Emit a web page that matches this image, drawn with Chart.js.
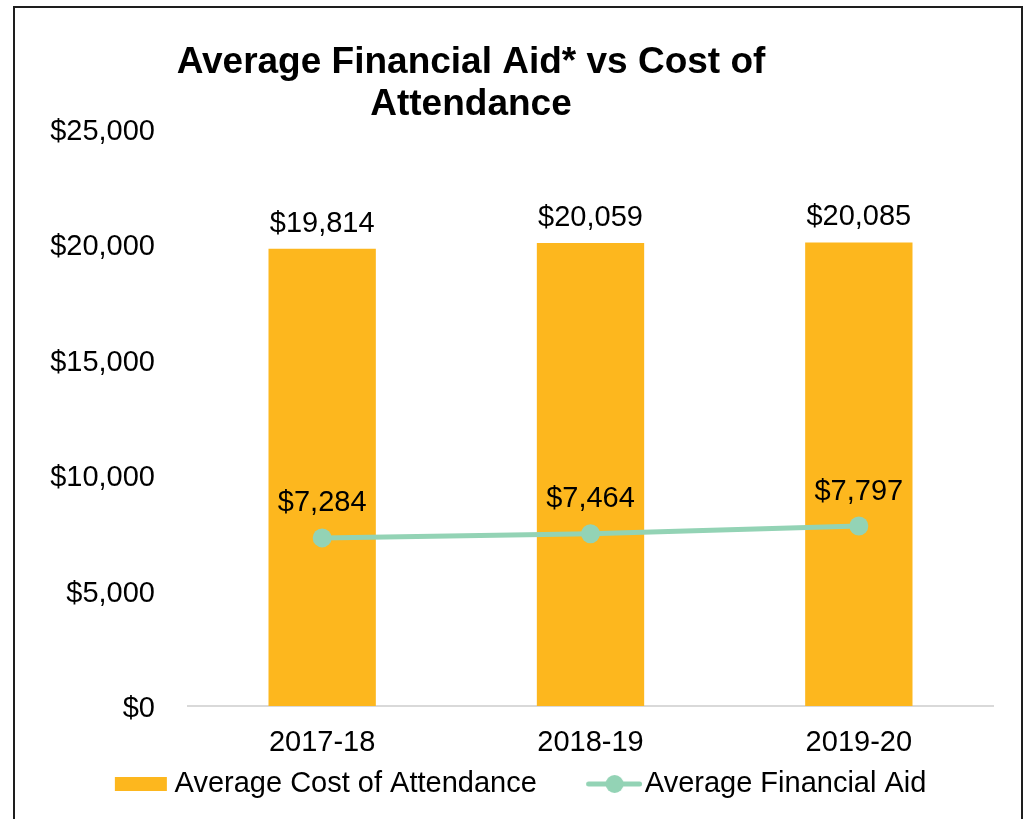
<!DOCTYPE html>
<html lang="en">
<head>
  <meta charset="UTF-8">
  <title>Average Financial Aid vs Cost of Attendance</title>
  <script src="https://cdn.jsdelivr.net/npm/chart.js"></script>
  <style>
    html, body {
      margin: 0;
      padding: 0;
      background: #fff;
      overflow: hidden;
    }
    #frame {
      position: absolute;
      left: 13px;
      top: 6px;
      width: 1006px;
      height: 900px;
      border: 2px solid #1e1e1e;
      pointer-events: none;
    }
    #chart {
      position: absolute;
      left: 0;
      top: 0;
    }
  </style>
</head>
<body>
  <canvas id="chart" width="1023" height="819"></canvas>
  <div id="frame"></div>

  <script>
    // data
    const years = ['2017-18', '2018-19', '2019-20'];
    const costOfAttendance = [19814, 20059, 20085];
    const financialAid = [7284, 7464, 7797];
    const yTickValues = [0, 5000, 10000, 15000, 20000, 25000];
    const titleLines = ['Average Financial Aid* vs Cost of', 'Attendance'];

    const barColor = '#FDB71E';
    const lineColor = '#93D3B5';
    const fontFamily = "'Liberation Sans', Arial, sans-serif";

    const money = v => '$' + v.toLocaleString('en-US');

    Chart.defaults.font.family = fontFamily;
    Chart.defaults.font.size = 29;
    Chart.defaults.color = '#000';

    // legend icons (drawn into small canvases, centred on the legend box)
    function makeIcon(w, h, draw) {
      const c = document.createElement('canvas');
      c.width = w;
      c.height = h;
      draw(c.getContext('2d'));
      return c;
    }
    const barIcon = makeIcon(101, 16, ctx => {
      ctx.fillStyle = barColor;
      ctx.fillRect(47, 1, 52, 14);
    });
    const lineIcon = makeIcon(107, 22, ctx => {
      ctx.strokeStyle = lineColor;
      ctx.lineWidth = 5;
      ctx.lineCap = 'round';
      ctx.beginPath();
      ctx.moveTo(53.5, 11);
      ctx.lineTo(104.5, 11);
      ctx.stroke();
      ctx.fillStyle = lineColor;
      ctx.beginPath();
      ctx.arc(79.5, 11, 9, 0, Math.PI * 2);
      ctx.fill();
    });

    const titlePlugin = {
      id: 'offsetTitle',
      afterDraw(chart) {
        const ctx = chart.ctx;
        ctx.save();
        ctx.font = 'bold 37px ' + fontFamily;
        ctx.fillStyle = '#000';
        ctx.textAlign = 'center';
        ctx.textBaseline = 'alphabetic';
        ctx.fillText(titleLines[0], 471, 73);
        ctx.fillText(titleLines[1], 471, 115);
        ctx.restore();
      }
    };

    const valueLabels = {
      id: 'valueLabels',
      afterDatasetsDraw(chart) {
        const ctx = chart.ctx;
        ctx.save();
        ctx.font = '29px ' + fontFamily;
        ctx.fillStyle = '#000';
        ctx.textAlign = 'center';
        ctx.textBaseline = 'alphabetic';
        chart.data.datasets.forEach((ds, i) => {
          const meta = chart.getDatasetMeta(i);
          const lift = ds.type === 'bar' ? 17 : 26.5;
          meta.data.forEach((el, j) => {
            ctx.fillText(money(ds.data[j]), el.x, el.y - lift);
          });
        });
        ctx.restore();
      }
    };

    new Chart(document.getElementById('chart'), {
      data: {
        labels: years,
        datasets: [
          {
            type: 'bar',
            label: 'Average Cost of Attendance',
            data: costOfAttendance,
            backgroundColor: barColor,
            borderWidth: 0,
            barPercentage: 0.4,
            categoryPercentage: 1,
            order: 2
          },
          {
            type: 'line',
            label: 'Average Financial Aid',
            data: financialAid,
            borderColor: lineColor,
            backgroundColor: lineColor,
            borderWidth: 5,
            pointRadius: 9.5,
            pointBorderWidth: 0,
            pointBackgroundColor: lineColor,
            fill: false,
            tension: 0,
            order: 1
          }
        ]
      },
      options: {
        responsive: false,
        animation: false,
        layout: {
          padding: { top: 129, right: 30, bottom: 10.5, left: 10 }
        },
        scales: {
          x: {
            offset: true,
            afterFit(scale) {
              scale.height = 53.5;
            },
            grid: { display: false, drawTicks: false },
            border: { display: true, color: '#D9D9D9', width: 2 },
            ticks: { padding: 20, color: '#000' }
          },
          y: {
            min: 0,
            max: 25000,
            afterBuildTicks(scale) {
              scale.ticks = yTickValues.map(v => ({ value: v }));
            },
            afterFit(scale) {
              scale.width = 178;
            },
            grid: { display: false, drawTicks: false },
            border: { display: false },
            ticks: {
              padding: 33,
              labelOffset: 3,
              color: '#000',
              callback: v => money(v)
            }
          }
        },
        plugins: {
          title: { display: false },
          tooltip: { enabled: false },
          legend: {
            position: 'bottom',
            labels: {
              usePointStyle: true,
              pointStyleWidth: 83.5,
              boxHeight: 14,
              padding: 10,
              color: '#000',
              generateLabels() {
                return [
                  { text: 'Average Cost of Attendance', pointStyle: barIcon, fillStyle: barColor, strokeStyle: barColor, lineWidth: 0, datasetIndex: 0 },
                  { text: 'Average Financial Aid', pointStyle: lineIcon, fillStyle: lineColor, strokeStyle: lineColor, lineWidth: 0, datasetIndex: 1 }
                ];
              }
            }
          }
        }
      },
      plugins: [titlePlugin, valueLabels]
    });
  </script>
</body>
</html>
